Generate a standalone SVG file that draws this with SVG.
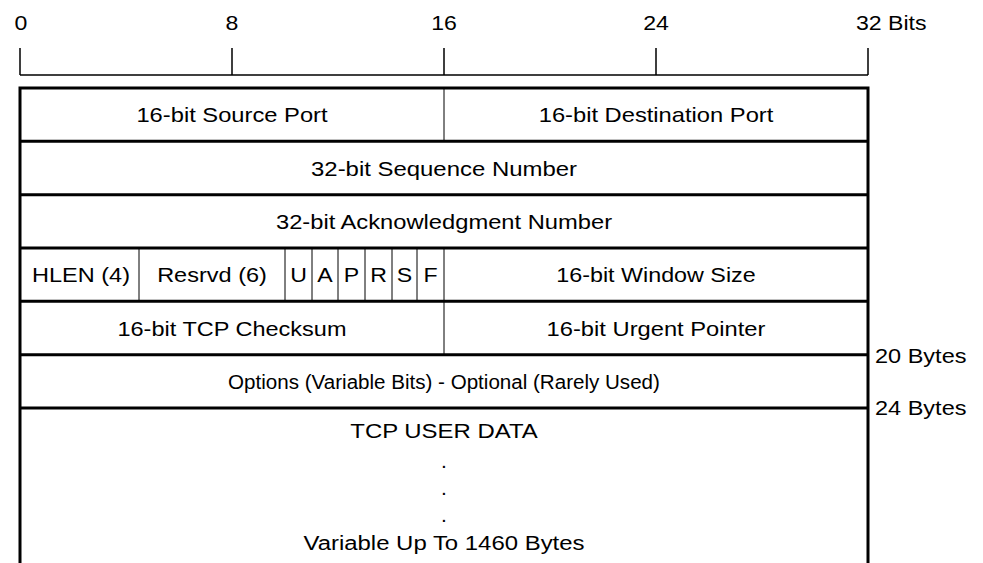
<svg xmlns="http://www.w3.org/2000/svg" width="983" height="563" viewBox="0 0 983 563">
<style>
text{font-family:"Liberation Sans",Arial,sans-serif;font-size:21px;fill:#000}
.c{text-anchor:middle}
.thick{stroke:#000;stroke-width:3;fill:none}
.thin{stroke:#000;stroke-width:1;fill:none}
.rule{stroke:#000;stroke-width:1.5;fill:none}
</style>
<rect width="983" height="563" fill="#fff"/>
<g id="ruler">
<path class="rule" d="M20,75H868M20,48V75M232,48V75M444,48V75M656,48V75M868,48V75"/>
<text class="c" transform="translate(21,30) scale(1.1,1)">0</text>
<text class="c" transform="translate(232,30) scale(1.1,1)">8</text>
<text class="c" transform="translate(444,30) scale(1.1,1)">16</text>
<text class="c" transform="translate(656,30) scale(1.1,1)">24</text>
<text transform="translate(856,30) scale(1.1,1)">32 Bits</text>
</g>
<g id="connectors">
<path class="thick" d="M20,88V563M868,88V563M18.5,88H869.5M20,141.3H868M20,194.7H868M20,248H868M20,301.3H868M20,354.7H868M20,408H868"/>
<path class="thin" d="M444,88V141.3M444,248V354.7M139,248V301.3M285,248V301.3M312,248V301.3M338,248V301.3M365,248V301.3M392,248V301.3M417,248V301.3"/>
</g>
<g id="source-port"><text class="c" transform="translate(232,122) scale(1.13,1)">16-bit Source Port</text></g>
<g id="dest-port"><text class="c" transform="translate(656,122) scale(1.13,1)">16-bit Destination Port</text></g>
<g id="seq"><text class="c" transform="translate(444,175.5) scale(1.14,1)">32-bit Sequence Number</text></g>
<g id="ack"><text class="c" transform="translate(444,229) scale(1.13,1)">32-bit Acknowledgment Number</text></g>
<g id="hlen"><text class="c" transform="translate(81,282) scale(1.12,1)">HLEN (4)</text></g>
<g id="resrvd"><text class="c" transform="translate(212,282) scale(1.12,1)">Resrvd (6)</text></g>
<g id="flag-u"><text class="c" transform="translate(298.5,282) scale(1.1,1)">U</text></g>
<g id="flag-a"><text class="c" transform="translate(325,282) scale(1.1,1)">A</text></g>
<g id="flag-p"><text class="c" transform="translate(351.5,282) scale(1.1,1)">P</text></g>
<g id="flag-r"><text class="c" transform="translate(378.5,282) scale(1.1,1)">R</text></g>
<g id="flag-s"><text class="c" transform="translate(404.5,282) scale(1.1,1)">S</text></g>
<g id="flag-f"><text class="c" transform="translate(430.5,282) scale(1.1,1)">F</text></g>
<g id="window"><text class="c" transform="translate(656,282) scale(1.11,1)">16-bit Window Size</text></g>
<g id="checksum"><text class="c" transform="translate(232,335.5) scale(1.12,1)">16-bit TCP Checksum</text></g>
<g id="urgent"><text class="c" transform="translate(656,335.5) scale(1.13,1)">16-bit Urgent Pointer</text></g>
<g id="options"><text class="c" transform="translate(444,389) scale(0.98,1)">Options (Variable Bits) - Optional (Rarely Used)</text></g>
<g id="bytes20"><text transform="translate(875,362.5) scale(1.12,1)">20 Bytes</text></g>
<g id="bytes24"><text transform="translate(875,415) scale(1.12,1)">24 Bytes</text></g>
<g id="data">
<text class="c" transform="translate(444,438) scale(1.14,1)">TCP USER DATA</text>
<text class="c" x="444" y="468">.</text>
<text class="c" x="444" y="495">.</text>
<text class="c" x="444" y="522">.</text>
<text class="c" transform="translate(444,550) scale(1.14,1)">Variable Up To 1460 Bytes</text>
</g>
</svg>
